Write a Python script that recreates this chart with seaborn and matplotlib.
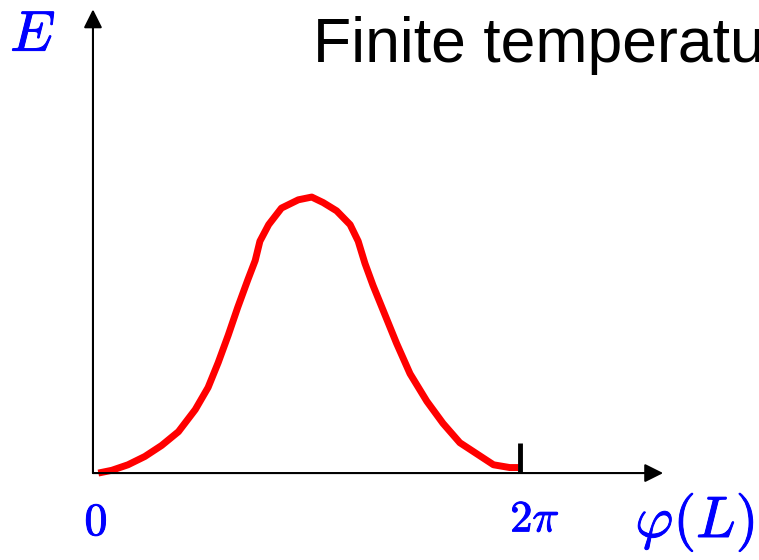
import numpy as np
import matplotlib
matplotlib.use("Agg")
import matplotlib.pyplot as plt
import matplotlib.patheffects as pe
import seaborn as sns

# energy barrier (phi in radians, E normalised to the peak)
phi = [0.02, 0.22, 0.46, 0.71, 0.96, 1.21, 1.46, 1.65, 1.80, 1.95, 2.09, 2.24,
       2.35, 2.42, 2.55, 2.74, 2.99, 3.19, 3.36, 3.56, 3.76, 3.88, 3.98, 4.10,
       4.25, 4.45, 4.65, 4.90, 5.14, 5.39, 5.64, 5.89, 6.13, 6.26]
energy = [0.00, 0.01, 0.03, 0.06, 0.10, 0.15, 0.23, 0.31, 0.40, 0.50, 0.60, 0.70,
          0.77, 0.84, 0.90, 0.96, 0.99, 1.00, 0.98, 0.95, 0.90, 0.84, 0.76, 0.68,
          0.59, 0.47, 0.36, 0.26, 0.18, 0.11, 0.07, 0.03, 0.02, 0.02]
two_pi = 2 * np.pi
tick_height = 0.11
title = "Finite temperature"

sns.set_style("white")
plt.rcParams["mathtext.fontset"] = "cm"
plt.rcParams["font.family"] = ["Liberation Sans", "DejaVu Sans"]

fig = plt.figure(figsize=(7.59, 5.60), dpi=100)
ax = fig.add_axes([0, 0, 1, 1])
ax.set_xlim(-1.441, 9.834)
ax.set_ylim(-0.315, 1.714)
ax.axis("off")

# axes with arrow heads
arrow = dict(arrowstyle="-|>", color="black", lw=1.5, mutation_scale=28,
             shrinkA=0, shrinkB=0)
ax.annotate("", xy=(8.41, 0), xytext=(-0.06, 0), arrowprops=arrow)
ax.annotate("", xy=(-0.06, 1.68), xytext=(-0.06, 0), arrowprops=arrow)

sns.lineplot(x=phi, y=energy, ax=ax, color="red", linewidth=5,
             solid_capstyle="butt", solid_joinstyle="round")

# tick at 2 pi
ax.plot([two_pi, two_pi], [0, tick_height], color="black", lw=3.5,
        solid_capstyle="butt")

blue = "#0000ff"
bold = [pe.withStroke(linewidth=0.7, foreground=blue)]
fig.text(33 / 759, 1 - 36 / 560, r"$E$", color=blue, fontsize=41,
         ha="center", va="center", path_effects=bold)
fig.text(96 / 759, 1 - 523 / 560, r"$0$", color=blue, fontsize=33,
         ha="center", va="center", path_effects=bold)
fig.text(535 / 759, 1 - 520 / 560, r"$2\pi$", color=blue, fontsize=32,
         ha="center", va="center", path_effects=bold)
fig.text(695 / 759, 1 - 522 / 560, r"$\varphi(L)$", color=blue, fontsize=42,
         ha="center", va="center", path_effects=bold)

fig.text(313 / 759, 1 - 62 / 560, title, color="black", fontsize=45,
         ha="left", va="baseline")

fig.savefig("out.png", dpi=100)
